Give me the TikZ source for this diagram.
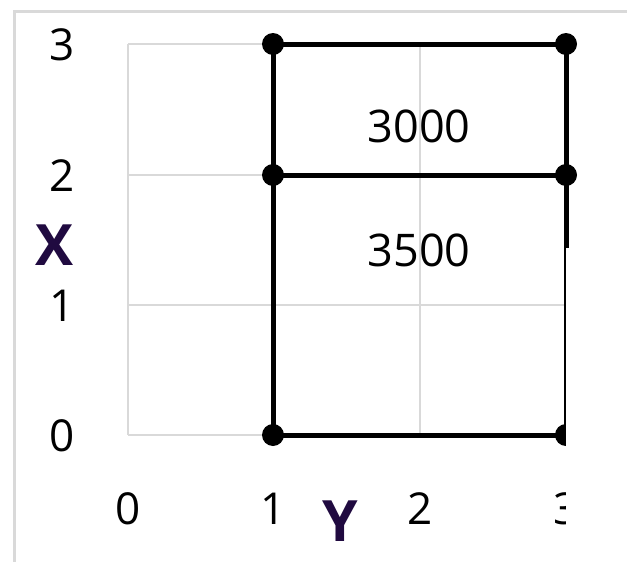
\documentclass[tikz,border=0pt]{standalone}
\usepackage{fontspec}
\setmainfont{Open Sans}
\definecolor{gridgray}{HTML}{D9D9D9}
\definecolor{axispurple}{HTML}{200A40}
\begin{document}
\begin{tikzpicture}[x=1pt,y=-1pt,
  gridline/.style={gridgray,line width=1.5pt},
  frameline/.style={gridgray,line width=3pt},
  beam/.style={black,line width=5pt},
  pt/.style={circle,fill=black,inner sep=0pt,minimum size=22pt},
  ticklabel/.style={font=\fontsize{44}{52}\selectfont,inner sep=0pt},
  axislabel/.style={font=\fontsize{57}{64}\selectfont\bfseries,text=axispurple,inner sep=0pt},
  valuelabel/.style={font=\fontsize{45}{52}\selectfont,inner sep=0pt}]
\useasboundingbox (0,0) rectangle (627,562);
\fill[white] (0,0) rectangle (627,562);
% frame
\draw[frameline] (14,562) -- (14,11) -- (627,11);
% grid
\foreach \gx in {128,273,420,566} \draw[gridline] (\gx,44) -- (\gx,435);
\foreach \gy in {44,175,305,435} \draw[gridline] (128,\gy) -- (566,\gy);
% points
\coordinate (a0) at (273,435);
\coordinate (a2) at (273,175);
\coordinate (a3) at (273,44);
\coordinate (b0) at (566,435);
\coordinate (b2) at (566,175);
\coordinate (b3) at (566,44);
\draw[beam] (a0) -- (a3);
\draw[beam] (a3) -- (b3);
\draw[beam] (a2) -- (b2);
\draw[beam] (a0) -- (b0);
\draw[beam] (b3) -- (b0);
\foreach \p in {a0,a2,a3,b0,b2,b3} \node[pt] (d\p) at (\p) {};
% tick labels
\node[ticklabel] (yl3) at (62,45) {3};
\node[ticklabel] (yl2) at (62,176) {2};
\node[ticklabel] (yl1) at (62,306) {1};
\node[ticklabel] (yl0) at (62,436) {0};
\node[ticklabel] (xl0) at (128,509) {0};
\node[ticklabel] (xl1) at (273,509) {1};
\node[ticklabel] (xl2) at (420,509) {2};
\node[ticklabel] (xl3) at (566,509) {3};
% value labels
\node[valuelabel] (v1) at (419,126) {3000};
\node[valuelabel] (v2) at (419,250) {3500};
% clipping mask
\fill[white] (565.5,248) rectangle (627,562);
% axis labels
\node[axislabel] (xlab) at (55,245) {X};
\node[axislabel] (ylab) at (340,521) {Y};
\end{tikzpicture}
\end{document}
